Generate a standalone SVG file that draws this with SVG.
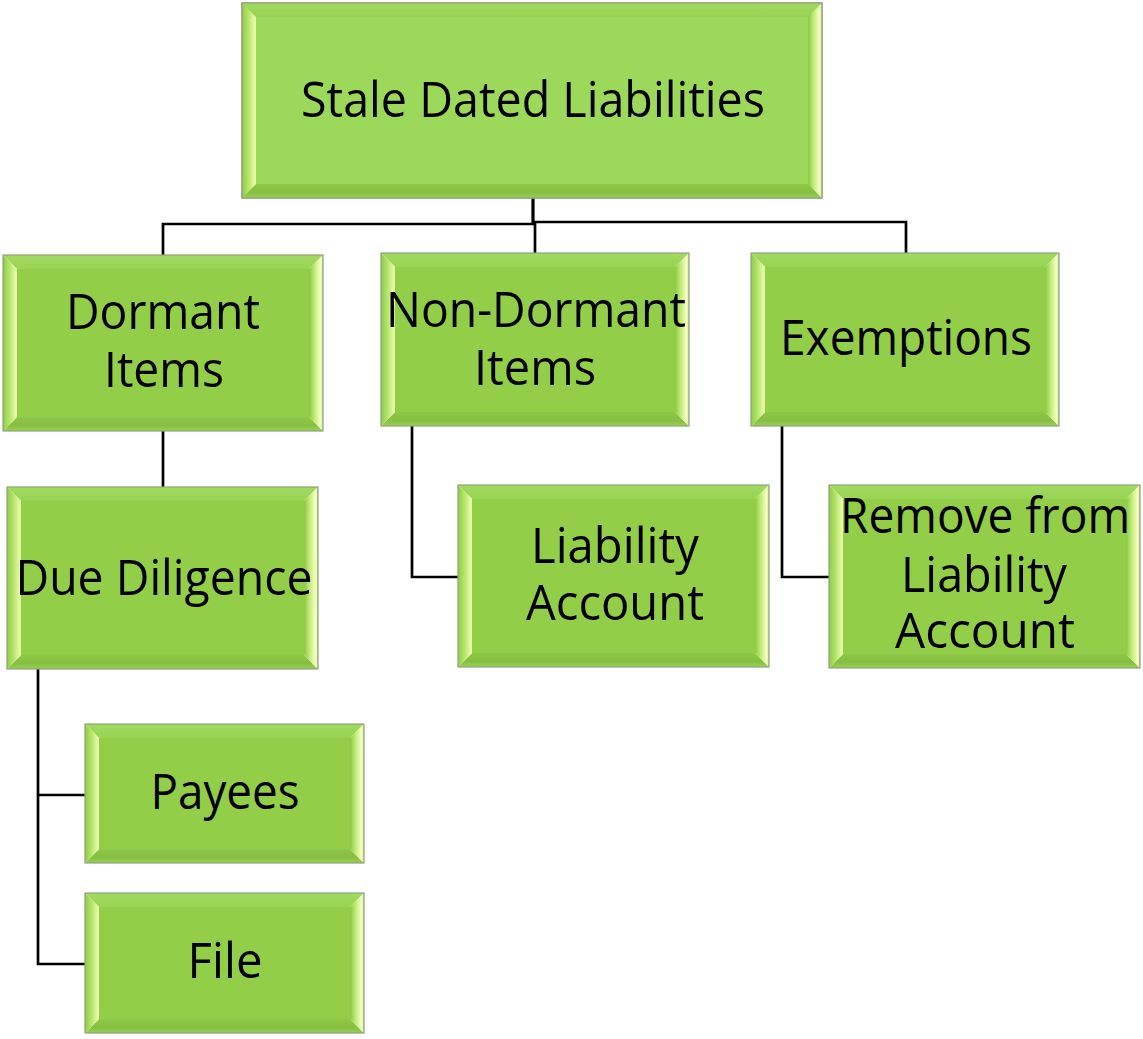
<svg xmlns="http://www.w3.org/2000/svg" width="1143" height="1039" viewBox="0 0 1143 1039">
  <defs>
    <!-- bevel lighting: left facet brightens toward the face, right facet toward the outer edge -->
    <linearGradient id="bevL" x1="0" y1="0" x2="1" y2="0">
      <stop offset="0" stop-color="#8fcb46"/>
      <stop offset="0.45" stop-color="#b4e46a"/>
      <stop offset="1" stop-color="#f1ffb0"/>
    </linearGradient>
    <linearGradient id="bevR" x1="0" y1="0" x2="1" y2="0">
      <stop offset="0" stop-color="#8cc744"/>
      <stop offset="0.45" stop-color="#c8ef80"/>
      <stop offset="0.85" stop-color="#fbffc8"/>
      <stop offset="1" stop-color="#b6e070"/>
    </linearGradient>
    <linearGradient id="bevT" x1="0" y1="0" x2="0" y2="1">
      <stop offset="0" stop-color="#a2da60"/>
      <stop offset="1" stop-color="#98d454"/>
    </linearGradient>
    <linearGradient id="bevB" x1="0" y1="0" x2="0" y2="1">
      <stop offset="0" stop-color="#8ec848"/>
      <stop offset="0.6" stop-color="#86bf40"/>
      <stop offset="1" stop-color="#98d056"/>
    </linearGradient>
  </defs>
  <style>
    .frame { stroke: #8fa27a; stroke-width: 1.2; }
    .face-root { fill: #9cd95a; }
    .face { fill: #93ce49; }
    .bt { fill: url(#bevT); }
    .bb { fill: url(#bevB); }
    .bl { fill: url(#bevL); }
    .br { fill: url(#bevR); }
    .lbl { font-family: "Open Sans", "Liberation Sans", sans-serif; font-size: 50px; fill: #000; text-anchor: middle; }
    .wire { fill: none; stroke: #000; stroke-width: 2.7; }
  </style>

  <rect width="1143" height="1039" fill="#fff"/>

  <!-- connectors -->
  <g id="connectors">
    <path class="wire" d="M533 198 V224 H163 V255"/>
    <path class="wire" d="M533 198 V222 H906 V253"/>
    <path class="wire" d="M535 222 V253"/>
    <path class="wire" d="M163 431 V487"/>
    <path class="wire" d="M412 426 V577 H458"/>
    <path class="wire" d="M782 426 V577 H829"/>
    <path class="wire" d="M38 669 V964 H85"/>
    <path class="wire" d="M38 795 H85"/>
  </g>

  <!-- root -->
  <g id="node-stale-dated-liabilities">
    <rect class="face-root frame" x="242" y="3" width="580" height="195"/>
    <path class="bt" d="M242 3 H822 L808 17 H256 Z"/>
    <path class="bb" d="M242 198 H822 L808 184 H256 Z"/>
    <path class="bl" d="M242 3 V198 L256 184 V17 Z"/>
    <path class="br" d="M822 3 V198 L808 184 V17 Z"/>
    <rect class="face-root" x="256" y="17" width="552" height="167"/>
    <rect class="frame" x="242" y="3" width="580" height="195" fill="none"/>
    <text class="lbl" x="533" y="117" textLength="464" lengthAdjust="spacingAndGlyphs">Stale Dated Liabilities</text>
  </g>

  <!-- Dormant Items -->
  <g id="node-dormant-items">
    <path class="bt" d="M3 255 H323 L309 269 H17 Z"/>
    <path class="bb" d="M3 431 H323 L309 417 H17 Z"/>
    <path class="bl" d="M3 255 V431 L17 417 V269 Z"/>
    <path class="br" d="M323 255 V431 L309 417 V269 Z"/>
    <rect class="face" x="17" y="269" width="292" height="148"/>
    <rect class="frame" x="3" y="255" width="320" height="176" fill="none"/>
    <text class="lbl" x="163" y="329" textLength="194" lengthAdjust="spacingAndGlyphs">Dormant</text>
    <text class="lbl" x="164" y="387" textLength="120" lengthAdjust="spacingAndGlyphs">Items</text>
  </g>

  <!-- Non-Dormant Items -->
  <g id="node-non-dormant-items">
    <path class="bt" d="M381 253 H689 L675 267 H395 Z"/>
    <path class="bb" d="M381 426 H689 L675 412 H395 Z"/>
    <path class="bl" d="M381 253 V426 L395 412 V267 Z"/>
    <path class="br" d="M689 253 V426 L675 412 V267 Z"/>
    <rect class="face" x="395" y="267" width="280" height="145"/>
    <rect class="frame" x="381" y="253" width="308" height="173" fill="none"/>
    <text class="lbl" x="536" y="327" textLength="300" lengthAdjust="spacingAndGlyphs">Non-Dormant</text>
    <text class="lbl" x="535" y="385" textLength="122" lengthAdjust="spacingAndGlyphs">Items</text>
  </g>

  <!-- Exemptions -->
  <g id="node-exemptions">
    <path class="bt" d="M751 253 H1059 L1045 267 H765 Z"/>
    <path class="bb" d="M751 426 H1059 L1045 412 H765 Z"/>
    <path class="bl" d="M751 253 V426 L765 412 V267 Z"/>
    <path class="br" d="M1059 253 V426 L1045 412 V267 Z"/>
    <rect class="face" x="765" y="267" width="280" height="145"/>
    <rect class="frame" x="751" y="253" width="308" height="173" fill="none"/>
    <text class="lbl" x="906" y="355" textLength="252" lengthAdjust="spacingAndGlyphs">Exemptions</text>
  </g>

  <!-- Due Diligence -->
  <g id="node-due-diligence">
    <path class="bt" d="M7 487 H318 L304 501 H21 Z"/>
    <path class="bb" d="M7 669 H318 L304 655 H21 Z"/>
    <path class="bl" d="M7 487 V669 L21 655 V501 Z"/>
    <path class="br" d="M318 487 V669 L304 655 V501 Z"/>
    <rect class="face" x="21" y="501" width="283" height="154"/>
    <rect class="frame" x="7" y="487" width="311" height="182" fill="none"/>
    <text class="lbl" x="164" y="595" textLength="297" lengthAdjust="spacingAndGlyphs">Due Diligence</text>
  </g>

  <!-- Liability Account -->
  <g id="node-liability-account">
    <path class="bt" d="M458 485 H769 L755 499 H472 Z"/>
    <path class="bb" d="M458 667 H769 L755 653 H472 Z"/>
    <path class="bl" d="M458 485 V667 L472 653 V499 Z"/>
    <path class="br" d="M769 485 V667 L755 653 V499 Z"/>
    <rect class="face" x="472" y="499" width="283" height="154"/>
    <rect class="frame" x="458" y="485" width="311" height="182" fill="none"/>
    <text class="lbl" x="615" y="563" textLength="168" lengthAdjust="spacingAndGlyphs">Liability</text>
    <text class="lbl" x="615" y="620" textLength="178" lengthAdjust="spacingAndGlyphs">Account</text>
  </g>

  <!-- Remove from Liability Account -->
  <g id="node-remove-from-liability-account">
    <path class="bt" d="M829 485 H1140 L1126 499 H843 Z"/>
    <path class="bb" d="M829 668 H1140 L1126 654 H843 Z"/>
    <path class="bl" d="M829 485 V668 L843 654 V499 Z"/>
    <path class="br" d="M1140 485 V668 L1126 654 V499 Z"/>
    <rect class="face" x="843" y="499" width="283" height="155"/>
    <rect class="frame" x="829" y="485" width="311" height="183" fill="none"/>
    <text class="lbl" x="985" y="533" textLength="290" lengthAdjust="spacingAndGlyphs">Remove from</text>
    <text class="lbl" x="984" y="592" textLength="166" lengthAdjust="spacingAndGlyphs">Liability</text>
    <text class="lbl" x="985" y="648" textLength="180" lengthAdjust="spacingAndGlyphs">Account</text>
  </g>

  <!-- Payees -->
  <g id="node-payees">
    <path class="bt" d="M85 724 H364 L350 738 H99 Z"/>
    <path class="bb" d="M85 863 H364 L350 849 H99 Z"/>
    <path class="bl" d="M85 724 V863 L99 849 V738 Z"/>
    <path class="br" d="M364 724 V863 L350 849 V738 Z"/>
    <rect class="face" x="99" y="738" width="251" height="111"/>
    <rect class="frame" x="85" y="724" width="279" height="139" fill="none"/>
    <text class="lbl" x="225" y="809" textLength="149" lengthAdjust="spacingAndGlyphs">Payees</text>
  </g>

  <!-- File -->
  <g id="node-file">
    <path class="bt" d="M85 893 H364 L350 907 H99 Z"/>
    <path class="bb" d="M85 1033 H364 L350 1019 H99 Z"/>
    <path class="bl" d="M85 893 V1033 L99 1019 V907 Z"/>
    <path class="br" d="M364 893 V1033 L350 1019 V907 Z"/>
    <rect class="face" x="99" y="907" width="251" height="112"/>
    <rect class="frame" x="85" y="893" width="279" height="140" fill="none"/>
    <text class="lbl" x="225" y="978" textLength="75" lengthAdjust="spacingAndGlyphs">File</text>
  </g>
</svg>
